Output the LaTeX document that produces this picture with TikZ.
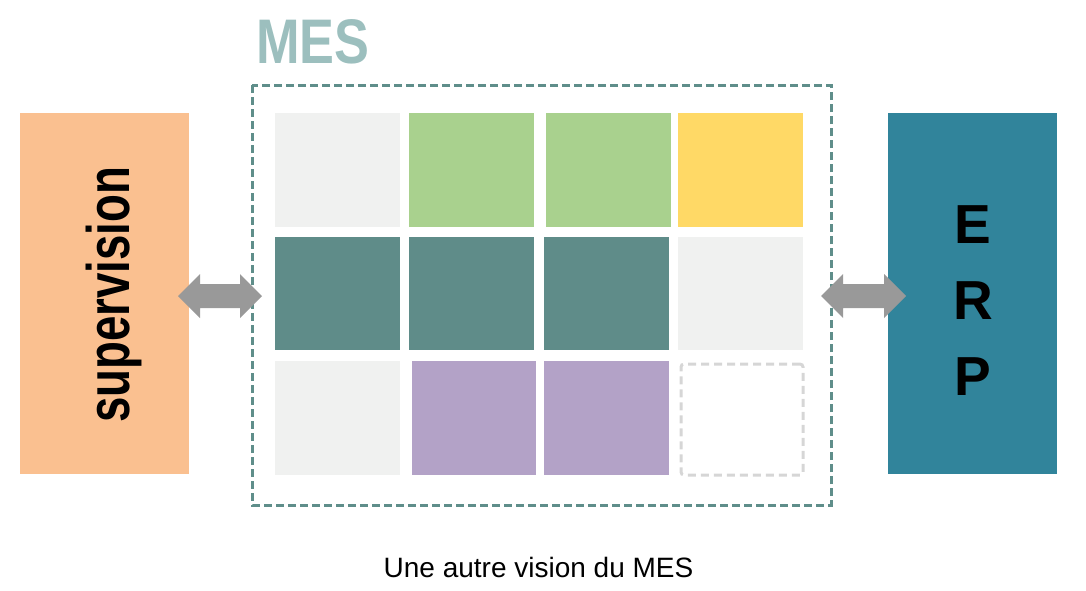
\documentclass[tikz,border=0pt]{standalone}
\usepackage{fontspec}
\usepackage{graphicx}
\setmainfont{Liberation Sans}
\definecolor{lightg}{HTML}{F0F1F0}
\definecolor{greenc}{HTML}{A9D18E}
\definecolor{yellowc}{HTML}{FFD966}
\definecolor{tealc}{HTML}{5F8C89}
\definecolor{purplec}{HTML}{B3A2C7}
\definecolor{orangec}{HTML}{FAC090}
\definecolor{erpc}{HTML}{31849B}
\definecolor{mesc}{HTML}{9CBFBE}
\definecolor{dashc}{HTML}{5F8E8A}
\definecolor{arrowc}{HTML}{999999}
\definecolor{celldash}{HTML}{D6D6D6}
\begin{document}
\begin{tikzpicture}[x=1pt,y=-1pt,
  cellbox/.style={draw=none, inner sep=0pt, minimum width=125pt, minimum height=114pt, anchor=north west},
  sidebox/.style={draw=none, inner sep=0pt, minimum width=169pt, minimum height=361pt, anchor=north west},
  blockarrow/.style={fill=arrowc, draw=none}]
\useasboundingbox (0,0) rectangle (1086,590);
% side boxes
\node[sidebox, fill=orangec] (sup) at (20,113) {};
\node[sidebox, fill=erpc] (erp) at (888,113) {};
% MES dashed frame
\draw[dashc, line width=3pt, dash pattern=on 8pt off 4pt] (252,85) rectangle (831,505);
% grid cells
\node[cellbox, fill=lightg] (c11) at (275,113) {};
\node[cellbox, fill=greenc] (c12) at (409,113) {};
\node[cellbox, fill=greenc] (c13) at (546,113) {};
\node[cellbox, fill=yellowc] (c14) at (678,113) {};
\node[cellbox, fill=tealc, minimum height=113pt] (c21) at (275,237) {};
\node[cellbox, fill=tealc, minimum height=113pt] (c22) at (409,237) {};
\node[cellbox, fill=tealc, minimum height=113pt] (c23) at (544,237) {};
\node[cellbox, fill=lightg, minimum height=113pt] (c24) at (678,237) {};
\node[cellbox, fill=lightg] (c31) at (275,361) {};
\node[cellbox, fill=purplec, minimum width=124pt] (c32) at (412,361) {};
\node[cellbox, fill=purplec] (c33) at (544,361) {};
\node[cellbox, draw=celldash, line width=3pt, dash pattern=on 8pt off 5pt, rounded corners=3pt, minimum width=122pt, minimum height=111pt] (c34) at (679.5,362.5) {};
% double block arrows
\fill[blockarrow] (178,296) -- (200,274) -- (200,284) -- (240,284) -- (240,274) -- (262,296)
  -- (240,318) -- (240,308) -- (200,308) -- (200,318) -- cycle;
\fill[blockarrow] (821,296) -- (843,274) -- (843,284) -- (884,284) -- (884,274) -- (906,296)
  -- (884,318) -- (884,308) -- (843,308) -- (843,318) -- cycle;
% texts
\node[font=\bfseries\fontsize{60}{60}\selectfont, rotate=90, anchor=base, inner sep=0pt] (suptxt) at (129,295) {\scalebox{0.76}[1]{supervision}};
\node[font=\bfseries\fontsize{55}{76}\selectfont, align=center, anchor=north, inner sep=0pt] (erptxt) at (973,205) {E\\R\\P};
\node[font=\bfseries\fontsize{63}{63}\selectfont, text=mesc, anchor=base west, inner sep=0pt] (mes) at (256,63) {\scalebox{0.83}[1]{MES}};
\node[font=\fontsize{28}{34}\selectfont, anchor=base, inner sep=0pt] (cap) at (538.5,577) {Une autre vision du MES};
\end{tikzpicture}
\end{document}
